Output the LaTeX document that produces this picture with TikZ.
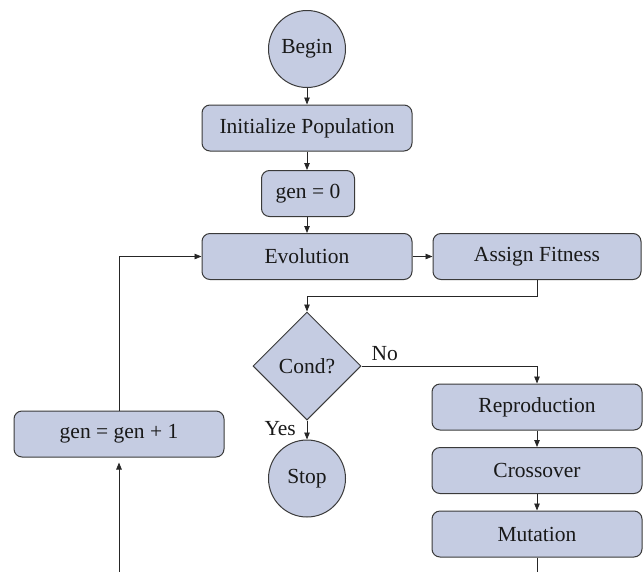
\documentclass[tikz,border=0pt]{standalone}
\usepackage{
	fontspec,			% Fonts
	xcolor				% Colours
}
\setmainfont{Liberation Serif}
\usetikzlibrary{arrows.meta,shapes.geometric}
\definecolor{fillc}{HTML}{C5CCE2}
\definecolor{edgec}{HTML}{3A3A3A}

\begin{document}
\begin{tikzpicture}[x=1pt,y=-1pt,
		proc/.style={draw=edgec,fill=fillc,line width=1pt,rounded corners=8pt,minimum width=210pt,minimum height=46pt,inner sep=0pt,font=\fontsize{21.5}{25}\selectfont,text=black!90},
		term/.style={proc,circle,rounded corners=0pt,minimum size=77pt},
		dec/.style={proc,diamond,aspect=1,rounded corners=0pt,minimum size=108pt},
		arr/.style={draw=black!85,line width=0.8pt,-{Triangle[length=7pt,width=5.5pt]}},
		lbl/.style={font=\fontsize{21.5}{25}\selectfont,text=black!90,inner sep=0pt}]
		\useasboundingbox (0,0) rectangle (643,571);
		\clip (0,0) rectangle (643,571);
		\node[term] (b) at (307,49) {Begin};
		\node[proc] (ip) at (307,128) {Initialize Population};
		\node[proc,minimum width=93pt] (g0) at (308,193.5) {gen = 0};
		\node[proc] (ev) at (307,256.5) {Evolution};
		\node[proc,minimum width=208pt] (af) at (537,256.5) {Assign Fitness};
		\node[dec] (c) at (307,366) {Cond?};
		\node[term] (st) at (307,478.5) {Stop};
		\node[proc] (rp) at (537,407) {Reproduction};
		\node[proc] (cr) at (537,470.5) {Crossover};
		\node[proc] (mu) at (537,534) {Mutation};
		\node[proc] (gi) at (119,434) {gen = gen + 1};
		\draw[arr] (b) -- (ip);
		\draw[arr] (ip) -- (g0.north -| ip);
		\draw[arr] (g0.south -| ip) -- (ev);
		\draw[arr] (ev) -- (af);
		\draw[arr] (af.south) -- ++(0,16) -| (c.north);
		\draw[arr] (c.east) -| (rp.north);
		\node[lbl,anchor=south west] (no) at ([xshift=10pt,yshift=5pt]c.east) {No};
		\draw[arr] (c.south) -- (st.north);
		\node[lbl,anchor=east] (yes) at ([xshift=-11pt,yshift=11pt]st.north) {Yes};
		\draw[arr] (rp) -- (cr);
		\draw[arr] (cr) -- (mu);
		\draw[arr,shorten >=5pt] (mu.south) -- ++(0,40) -| (gi.south);
		\draw[arr] (gi.north) |- (ev.west);
	\end{tikzpicture}
\end{document}
